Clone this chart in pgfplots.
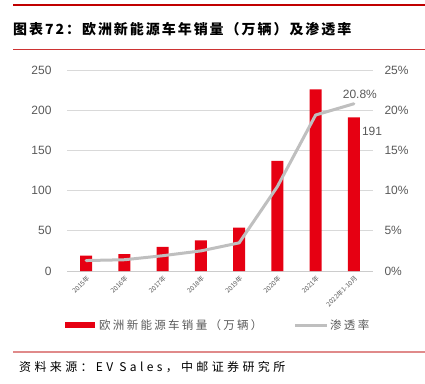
\documentclass[border=0pt]{standalone}
\usepackage{pgfplots}
\pgfplotsset{compat=1.18}
\usepackage{fontspec}
\setmainfont{Liberation Sans}
\newfontfamily\cjk{Noto Sans CJK SC}
\newfontfamily\cjksp[LetterSpace=14]{Noto Sans CJK SC}
\newfontfamily\cjkleg[LetterSpace=20]{Noto Sans CJK SC}
\newfontfamily\cjksrc[LetterSpace=28]{Noto Sans CJK SC}
\definecolor{barred}{HTML}{E60012}
\definecolor{linegray}{HTML}{BFBFBF}
\definecolor{txtgray}{HTML}{595959}
\definecolor{topred}{HTML}{C00000}
\definecolor{lightred}{HTML}{E08A8A}
\begin{document}
\begin{tikzpicture}[x=1pt,y=1pt]
\path[use as bounding box] (0,0) rectangle (425,383);
% header lines
\draw[topred, line width=2pt] (13,378) -- (425,378);
\draw[topred!80, line width=0.8pt] (13,334) -- (425,334);
\node[anchor=west, inner sep=0] at (13,354) {\fontsize{14}{16}\cjksp\bfseries 图表72：欧洲新能源车年销量（万辆）及渗透率};
% bottom
\draw[lightred, line width=1.2pt] (13,31) -- (425,31);
\node[anchor=west, inner sep=0] at (19,16) {\fontsize{12}{14}\cjksrc 资料来源：EV Sales，中邮证券研究所};

\begin{axis}[
  at={(67pt,112pt)}, anchor=south west,
  width=306pt, height=201pt, scale only axis,
  xmin=-0.5, xmax=7.5, ymin=0, ymax=250,
  ytick={0,50,...,250},
  xtick={0,...,7},
  xticklabels={2015年,2016年,2017年,2018年,2019年,2020年,2021年,2022年1-10月},
  xticklabel style={rotate=45, anchor=north east, font=\fontsize{6.5}{7}\cjk, text=txtgray, inner sep=0.5pt},
  xticklabel shift={3pt},
  yticklabel style={font=\fontsize{12}{14}\selectfont, text=txtgray, /pgf/number format/assume math mode=true},
  yticklabel shift={12pt},
  axis y line*=left, axis x line*=bottom,
  y axis line style={draw=none},
  x axis line style={draw=black!20, line width=0.8pt},
  major tick length=0pt,
  ymajorgrids, grid style={black!15, line width=0.8pt},
  clip=false,
]
\addplot[ybar, bar width=12pt, fill=barred, draw=none] coordinates {
 (0,19) (1,21) (2,30) (3,38) (4,54) (5,137) (6,226) (7,191)};
\node[anchor=north west, text=txtgray, font=\fontsize{12}{14}\selectfont, inner sep=0] at (axis cs:7,191) [xshift=8pt, yshift=-9pt] {191};
\end{axis}

\begin{axis}[
  at={(67pt,112pt)}, anchor=south west,
  width=306pt, height=201pt, scale only axis,
  xmin=-0.5, xmax=7.5, ymin=0, ymax=25,
  ytick={0,5,...,25},
  yticklabel={\pgfmathprintnumber{\tick}\%},
  yticklabel style={font=\fontsize{12}{14}\selectfont, text=txtgray, /pgf/number format/assume math mode=true},
  yticklabel shift={8pt},
  axis y line*=right, axis x line=none,
  y axis line style={draw=none},
  major tick length=0pt,
  clip=false,
]
\addplot[linegray, line width=3pt, line join=round, line cap=round] coordinates {
 (0,1.3) (1,1.4) (2,1.9) (3,2.5) (4,3.5) (5,10.5) (6,19.4) (7,20.8)};
\node[anchor=south, text=txtgray, font=\fontsize{12}{14}\selectfont, inner sep=0] at (axis cs:7,20.8) [xshift=6pt, yshift=5pt] {20.8\%};
\end{axis}

% legend
\fill[barred] (65,55) rectangle (95,61);
\node[anchor=west, inner sep=0] at (99,58) {\fontsize{11.5}{13}\cjkleg\color{txtgray}欧洲新能源车销量（万辆）};
\draw[linegray, line width=3pt] (295,58) -- (327,58);
\node[anchor=west, inner sep=0] at (330,58) {\fontsize{11.5}{13}\cjkleg\color{txtgray}渗透率};
\end{tikzpicture}
\end{document}
